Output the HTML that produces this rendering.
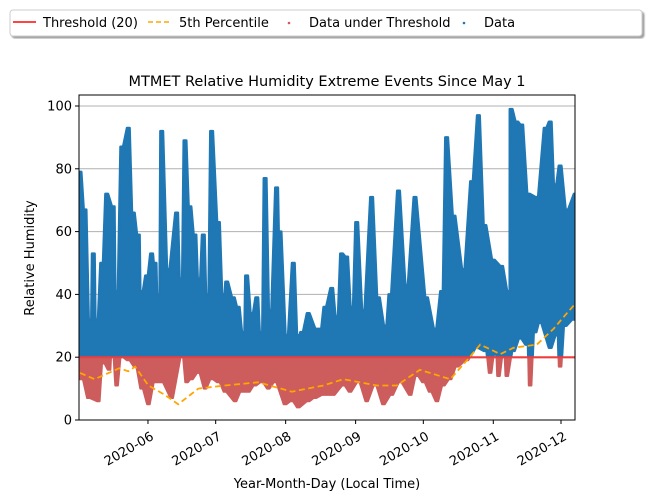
<!DOCTYPE html>
<html><head><meta charset="utf-8"><style>
body{margin:0;background:#fff;}
svg{display:block;font-family:"DejaVu Sans","Liberation Sans",sans-serif;}
</style></head><body>
<svg id="chart" width="653" height="501" viewBox="0 0 653 501">
<defs>
<clipPath id="plotclip"><rect x="79" y="95" width="496" height="325"/></clipPath>
<clipPath id="above"><rect x="79" y="95" width="496" height="262"/></clipPath>
<clipPath id="below"><rect x="79" y="357" width="496" height="63"/></clipPath>
<filter id="sh"><feDropShadow dx="2" dy="2" stdDeviation="0.8" flood-color="#888" flood-opacity="0.8"/></filter>
</defs>
<g id="grid"></g>
<g id="marks" clip-path="url(#plotclip)"></g>
<rect x="79" y="95" width="496" height="325" fill="none" stroke="#000" stroke-width="1"/>
<g id="axes"></g>
<text x="327" y="86" text-anchor="middle" font-size="14.5">MTMET Relative Humidity Extreme Events Since May 1</text>
<text x="327" y="488" text-anchor="middle" font-size="13">Year-Month-Day (Local Time)</text>
<text transform="translate(34,258) rotate(-90)" text-anchor="middle" font-size="13">Relative Humidity</text>
<g>
<rect x="10" y="10" width="632" height="26" rx="3" fill="#fff" stroke="#ccc" filter="url(#sh)"/>
<g><line x1="13" y1="22" x2="36" y2="22" stroke="#f44" stroke-width="2"/><text x="43" y="27" font-size="13">Threshold (20)</text></g>
<g><line x1="148" y1="22" x2="170" y2="22" stroke="orange" stroke-width="1.5" stroke-dasharray="5,3"/><text x="179" y="27" font-size="13">5th Percentile</text></g>
<g><circle cx="289" cy="23" r="1.3" fill="#cd5c5c"/><text x="309" y="27" font-size="13">Data under Threshold</text></g>
<g><circle cx="464" cy="23" r="1.3" fill="#1f77b4"/><text x="484" y="27" font-size="13">Data</text></g>
</g>
</svg>
<script>
// days since May 1, 2020
const maxDays=[0.9,3.1,5.3,6.8,8.3,10.5,12.7,15.6,17.1,19.4,22.3,24.5,26.7,28.2,30.4,32.6,34.1,35.6,37.1,40,43.7,45.6,47.4,49.6,51.8,53.6,55.5,57.3,59.2,62.2,64.4,65.9,68.8,71,73.2,74.7,77,79.2,81.1,82.9,85.1,88,89.5,92.5,95.4,97.6,99.1,102,105.7,107.2,109.4,112.4,114.6,116.8,119,121.3,123.5,126.4,130.1,133.1,136.1,138.2,142,145.6,149.3,154.4,158.2,161.1,163.3,166.6,170.7,174.4,177.4,180.3,184,187.7,190.7,191.9,194.4,196.6,199.6,203.3,207,209.2,211.4,213.6,216.6,220.3];
const maxVals=[79,67,32,53,32,50,72,68,41,87,93,66,59,41,46,53,50,40,92,48,66,45,89,68,59,45,59,40,92,63,40,44,39,36,28,46,34,39,28,77,35,74,60,27,50,27,28,34,29,29,36,42,33,53,52,36,63,35,71,39,30,40,73,43,71,39,29,41,90,65,48,76,97,62,51,49,41,99,95,94,72,71,93,95,75,81,67,72];
const minDays=[0.9,1.6,4.6,9,11.2,13.8,15.2,17.1,19.4,22.3,25.3,28.2,31.2,34.1,37.1,41.5,46,48.1,50.3,53.3,56.3,59.2,62.2,65.1,69.6,72.5,75.5,78.4,81.4,84.3,87.3,91.7,94.7,97.6,102,105,108.7,113.1,117.6,120.5,124.2,127.9,131.6,135.3,139,142.7,147.2,150.1,153.1,156,159,161.9,164.9,167.9,172.3,176.7,180.4,182.6,184.8,186.3,188.5,190,192.9,195.9,198.8,200.3,202.5,204.7,209.2,212.1,213.6,215.8,219.5,220.3];
const minVals=[13,13,7,6,18,16,20,11,20,19,17,10,5,12,12,7,20,12,13,15,10,13,12,9,6,9,9,11,12,10,12,5,6,4,6,7,8,8,11,9,12,6,11,5,8,12,8,14,12,9,6,11,13,17,19,23,22,15,21,14,20,14,22,26,24,11,28,31,23,27,17,30,32,32];
const pctDays=[0.9,7.4,18.3,22.3,25.3,31.2,38.5,44.4,53.3,65.1,79.9,94.7,108.7,117.6,132.4,141.2,151.5,164.9,172.3,178.2,187.1,192.9,203.3,210.7,216.6,220.3];
const pctVals=[15,13,16.5,15.5,17,11,8,5,10,11,12,9,11,13,11,11,16,13,19,24,21,23,24,29,34,37];
const yTicks=[0,20,40,60,80,100];
const xTickDays=[31,61,92,123,153,184,214];
const xTickLabels=["2020-06","2020-07","2020-08","2020-09","2020-10","2020-11","2020-12"];
const threshold=20;

const NS="http://www.w3.org/2000/svg";
const X=d=>78+d*2.257;
const Y=v=>420-v*3.14;
function mk(tag,attrs,parent){const e=document.createElementNS(NS,tag);for(const k in attrs)e.setAttribute(k,attrs[k]);parent.appendChild(e);return e;}
const grid=document.getElementById('grid'),marks=document.getElementById('marks'),axes=document.getElementById('axes');

yTicks.forEach(v=>{
  if(v>0){const g=mk('line',{x1:79,x2:575,y1:Y(v),y2:Y(v),stroke:'#b0b0b0','stroke-width':1},grid);
  
  }
  const t=mk('line',{x1:75,x2:79,y1:Y(v),y2:Y(v),stroke:'#000'},axes);
  
  
  const l=mk('text',{x:72,y:Y(v)+4.5,'text-anchor':'end','font-size':13},axes);l.textContent=v;
  
  
});
xTickDays.forEach((d,i)=>{
  const t=mk('line',{x1:X(d),x2:X(d),y1:420,y2:424,stroke:'#000'},axes);
  
  
  const l=mk('text',{transform:`translate(${X(d)+2},${431}) rotate(-30)`,'text-anchor':'end','font-size':13,dy:'0.7em'},axes);
  l.textContent=xTickLabels[i];
  
  
});

const HW=1.3;
function steps(ds,vs){const o=[];ds.forEach((d,i)=>{const y=Y(vs[i]).toFixed(1);o.push((X(d)-HW).toFixed(1)+','+y);o.push((X(d)+HW).toFixed(1)+','+y);});return o;}
function pts(ds,vs){return ds.map((d,i)=>X(d).toFixed(1)+','+Y(vs[i]).toFixed(1));}
const upper=steps(maxDays,maxVals);
const lower=steps(minDays,minVals).reverse();
const redPts=[X(minDays[0])+','+Y(threshold),X(minDays[minDays.length-1])+','+Y(threshold)].concat(lower);
const red=mk('polygon',{points:redPts.join(' '),fill:'#cd5c5c',stroke:'#cd5c5c','stroke-width':2,'stroke-linejoin':'round','clip-path':'url(#below)'},marks);


const blue=mk('polygon',{points:upper.concat(lower).join(' '),fill:'#1f77b4',stroke:'#1f77b4','stroke-width':2.5,'stroke-linejoin':'round','clip-path':'url(#above)'},marks);


const th=mk('line',{x1:79,x2:575,y1:Y(threshold),y2:Y(threshold),stroke:'#f03c3c','stroke-width':2},marks);


const pc=mk('polyline',{points:pts(pctDays,pctVals).join(' '),fill:'none',stroke:'orange','stroke-width':1.8,'stroke-dasharray':'6,3.5'},marks);


</script>
</body></html>
